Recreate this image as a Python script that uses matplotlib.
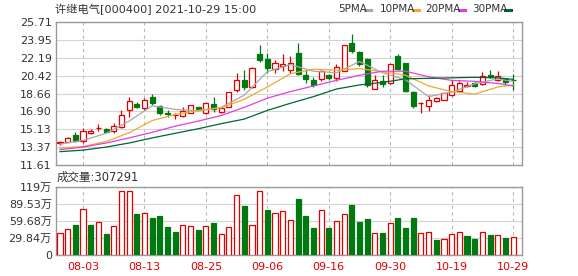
import numpy as np
import matplotlib
matplotlib.use('Agg')
import matplotlib.pyplot as plt
from matplotlib.lines import Line2D

plt.rcParams['font.family'] = ['DejaVu Sans', 'Noto Sans CJK SC']

# 交易日
dates = ['07-29', '07-30', '08-02', '08-03', '08-04', '08-05', '08-06', '08-09', '08-10', '08-11',
         '08-12', '08-13', '08-16', '08-17', '08-18', '08-19', '08-20', '08-23', '08-24', '08-25',
         '08-26', '08-27', '08-30', '08-31', '09-01', '09-02', '09-03', '09-06', '09-07', '09-08',
         '09-09', '09-10', '09-13', '09-14', '09-15', '09-16', '09-17', '09-22', '09-23', '09-24',
         '09-27', '09-28', '09-29', '09-30', '10-08', '10-11', '10-12', '10-13', '10-14', '10-15',
         '10-18', '10-19', '10-20', '10-21', '10-22', '10-25', '10-26', '10-27', '10-28', '10-29']
tick_dates = ['08-03', '08-13', '08-25', '09-06', '09-16', '09-30', '10-19', '10-29']

opens = [13.78, 13.92, 14.62, 13.95, 14.80, 15.25, 15.14, 15.00, 15.39, 17.00,
         17.65, 17.20, 18.33, 17.42, 16.75, 16.50, 16.44, 16.76, 17.29, 16.76,
         17.61, 16.86, 17.35, 18.98, 20.03, 19.31, 22.51, 22.09, 21.11, 21.33,
         21.00, 22.64, 20.45, 20.03, 20.13, 20.45, 20.15, 20.90, 23.65, 22.70,
         22.05, 19.15, 19.87, 19.68, 22.35, 21.65, 18.85, 17.70, 17.42, 17.90,
         18.07, 18.50, 18.88, 19.40, 19.70, 19.64, 20.45, 19.96, 20.06, 19.98]
highs = [14.00, 14.40, 14.85, 15.23, 15.20, 15.62, 15.25, 15.72, 17.00, 18.27,
         17.80, 18.17, 18.66, 17.51, 17.03, 16.70, 17.35, 17.55, 17.35, 17.74,
         18.27, 17.35, 18.82, 20.68, 20.94, 21.30, 23.39, 22.64, 21.92, 22.51,
         22.32, 23.62, 20.94, 20.29, 21.00, 20.62, 21.60, 23.45, 24.54, 22.85,
         22.15, 20.45, 20.45, 21.60, 22.50, 21.70, 18.95, 17.80, 18.50, 18.30,
         18.75, 19.95, 19.90, 19.75, 19.75, 20.78, 20.94, 20.87, 20.10, 20.55]
lows = [13.65, 13.85, 13.90, 13.78, 14.72, 15.00, 14.85, 14.74, 15.23, 16.40,
        17.20, 17.00, 17.51, 16.52, 16.31, 16.11, 16.31, 16.70, 17.03, 16.63,
        16.86, 16.70, 17.29, 18.82, 19.05, 19.20, 21.76, 20.68, 20.68, 20.87,
        20.68, 20.45, 19.70, 19.31, 19.90, 20.00, 19.85, 20.85, 22.64, 21.40,
        19.30, 19.10, 19.31, 19.60, 20.95, 18.85, 17.20, 16.76, 16.96, 17.80,
        18.00, 18.45, 18.80, 19.30, 19.30, 19.50, 20.20, 19.90, 19.55, 19.00]
closes = [13.86, 14.28, 14.00, 15.00, 15.00, 15.30, 14.92, 15.45, 16.54, 17.88,
          17.30, 18.00, 17.74, 16.76, 16.68, 16.56, 16.96, 17.51, 17.09, 17.68,
          17.09, 17.19, 18.76, 20.03, 19.31, 21.21, 21.99, 21.21, 21.66, 21.60,
          21.66, 20.62, 20.13, 19.47, 20.87, 20.23, 21.30, 23.39, 22.85, 21.55,
          19.47, 19.96, 19.64, 21.53, 21.05, 18.95, 17.40, 17.76, 18.07, 18.20,
          18.66, 19.50, 19.65, 19.50, 19.35, 20.35, 20.25, 20.35, 19.80, 19.94]

# 成交量(万手)
volumes = [37.9, 45.5, 52.4, 80.4, 52.4, 57.1, 36.7, 50.7, 111.9, 111.9,
           71.7, 72.9, 65.3, 68.2, 49.5, 40.8, 52.4, 50.7, 43.7, 50.7,
           56.5, 36.7, 49.0, 104.9, 85.7, 52.4, 111.9, 78.7, 72.9, 76.9,
           61.2, 97.9, 68.2, 47.8, 78.7, 47.8, 59.4, 71.1, 87.4, 58.3,
           62.9, 37.9, 37.9, 55.4, 64.1, 47.8, 64.1, 37.9, 39.6, 26.2,
           28.0, 36.2, 39.6, 33.2, 28.0, 39.6, 35.0, 35.0, 30.3, 30.73]
vol_colors = list('RRGRGRGRRR' 'GRGGGGRRGR' 'GRRRGRRGRR'
                  'RGGGRGRRGG' 'GRGRGGGRRG' 'RRRGGRGRGR')

# 均线 (每3个交易日读一个点)
ma_idx = [0, 3, 6, 9, 12, 15, 18, 21, 24, 27, 30, 33, 36, 39, 42, 45, 48, 51, 54, 57, 59]
ma5 = [13.70, 14.05, 14.75, 15.95, 17.45, 17.10, 16.95, 17.30, 18.50, 20.80, 21.50,
       20.85, 20.70, 21.80, 20.70, 20.00, 18.35, 18.80, 19.60, 20.10, 19.85]
ma10 = [13.30, 13.45, 13.95, 14.80, 16.00, 16.60, 17.00, 17.25, 18.10, 19.30, 20.60,
        21.05, 20.95, 21.10, 20.80, 20.45, 19.40, 18.85, 18.60, 19.30, 19.50]
ma20 = [13.15, 13.40, 13.80, 14.30, 14.85, 15.45, 15.95, 16.50, 17.30, 18.20, 18.85,
        19.40, 19.95, 20.45, 20.85, 20.85, 20.30, 19.95, 19.85, 19.65, 19.40]
ma30 = [12.95, 13.10, 13.40, 13.80, 14.30, 14.75, 15.20, 15.70, 16.15, 17.00, 17.70,
        18.35, 19.10, 19.50, 19.75, 20.10, 20.15, 20.20, 20.25, 20.20, 20.05]

price_ticks = [11.61, 13.37, 15.13, 16.90, 18.66, 20.42, 22.19, 23.95, 25.71]
vol_ticks = [0, 29.84, 59.68, 89.53, 119.36]
vol_labels = ['0', '29.84万', '59.68万', '89.53万', '119万']

RED = '#e00000'
GREEN = '#007a10'
GRID = '#d4d4d4'
FRAME = '#9a9a9a'
TXT = '#333333'
ma_colors = ['#a8a8a8', '#f0a830', '#e040e0', '#006633']

W, H = 578, 276
fig = plt.figure(figsize=(W / 100, H / 100), dpi=100)
ax = fig.add_axes([56 / W, 1 - 165.3 / H, 466 / W, 143.6 / H])
axv = fig.add_axes([56 / W, 1 - 255 / H, 466 / W, 68.3 / H])

x = np.arange(len(dates))
tick_pos = [dates.index(d) for d in tick_dates]
o = np.array(opens)
c = np.array(closes)
up = c >= o
bw = 0.66

for a in (ax, axv):
    a.set_xlim(-0.52, 60.16)
    for p in tick_pos:
        a.axvline(p, color='#b8b8b8', lw=0.8, ls=(0, (3, 3)), zorder=0)
    for s in a.spines.values():
        s.set_color(FRAME)
        s.set_linewidth(1)
    a.tick_params(length=0, labelsize=8, colors=TXT, pad=3)

# K线
ax.vlines(x, lows, highs, colors=[RED if u else GREEN for u in up], lw=0.9, zorder=2)
body_bot = np.minimum(o, c)
body_h = np.maximum(np.abs(c - o), 0.04)
ax.bar(x[up], body_h[up], bw, bottom=body_bot[up], facecolor='white',
       edgecolor=RED, linewidth=0.9, zorder=3)
ax.bar(x[~up], body_h[~up], bw, bottom=body_bot[~up], facecolor=GREEN,
       edgecolor=GREEN, linewidth=0.9, zorder=3)

for ma, col in zip([ma5, ma10, ma20, ma30], ma_colors):
    ax.plot(ma_idx, ma, color=col, lw=0.9, zorder=4)

ax.set_ylim(11.61, 25.71)
ax.set_yticks(price_ticks)
ax.set_yticklabels(['%.2f' % t for t in price_ticks])
ax.yaxis.grid(True, color=GRID, lw=0.8)
ax.set_axisbelow(True)
ax.set_xticks([])

# 成交量
vc = np.array(vol_colors)
vx = x[vc == 'R']
axv.bar(vx, np.array(volumes)[vc == 'R'], bw, facecolor='white', edgecolor=RED,
        linewidth=0.9, zorder=3)
gx = x[vc == 'G']
axv.bar(gx, np.array(volumes)[vc == 'G'], bw, facecolor=GREEN, edgecolor=GREEN,
        linewidth=0.9, zorder=3)
axv.set_ylim(0, 119.36)
axv.set_yticks(vol_ticks)
axv.set_yticklabels(vol_labels)
axv.yaxis.grid(True, color=GRID, lw=0.8)
axv.set_axisbelow(True)
axv.set_xticks(tick_pos)
axv.set_xticklabels(tick_dates, color=RED, fontsize=8)
axv.tick_params(axis='x', pad=5)

# 标题与图例
fig.text(55 / W, 1 - 9 / H, '许继电气[000400] 2021-10-29 15:00', fontsize=8.1,
         color=TXT, va='center', ha='left')
fig.text(57 / W, 1 - 177.5 / H, '成交量:307291', fontsize=8.3, color=TXT,
         va='center', ha='left')
leg = [('5PMA', 338), ('10PMA', 380), ('20PMA', 425), ('30PMA', 472)]
dash_x = [365, 413, 459, 505]
for (lab, lx), dx, col in zip(leg, dash_x, ma_colors):
    fig.text(lx / W, 1 - 9 / H, lab, fontsize=7.5, color=TXT, va='center', ha='left')
    fig.add_artist(Line2D([dx / W, (dx + 6) / W], [1 - 9.5 / H, 1 - 9.5 / H],
                          color=col, lw=2.2, transform=fig.transFigure))

fig.savefig('out.png', dpi=100, facecolor='white')
